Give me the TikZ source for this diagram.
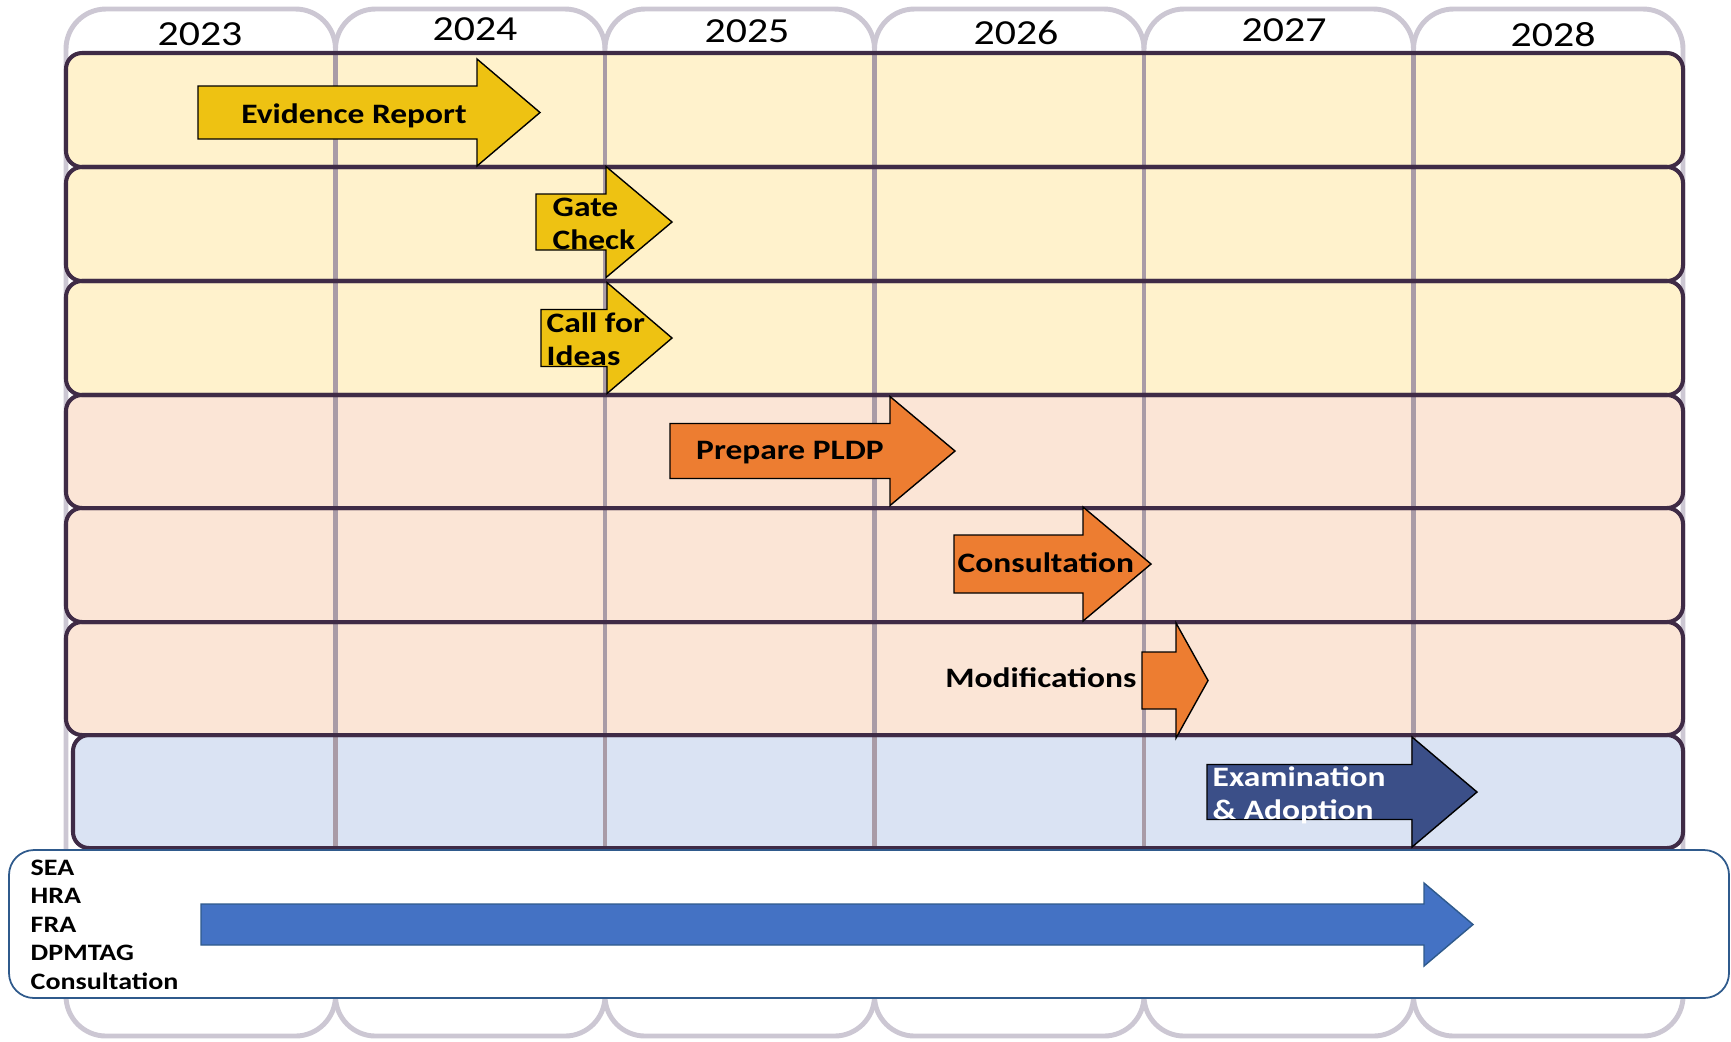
\documentclass[tikz,border=0pt]{standalone}
\usepackage{fontspec}
\setmainfont{Carlito}[FakeStretch=1.19]
\definecolor{laneline}{HTML}{3F2B46}
\definecolor{colline}{HTML}{CCC7D3}
\definecolor{sepline}{HTML}{A99BA6}
\definecolor{goldlane}{HTML}{FFF2CC}
\definecolor{peachlane}{HTML}{FBE5D6}
\definecolor{bluelane}{HTML}{DAE3F3}
\definecolor{goldarrow}{HTML}{EEC212}
\definecolor{orangearrow}{HTML}{ED7D31}
\definecolor{navyarrow}{HTML}{3B4F88}
\definecolor{bluearrow}{HTML}{4472C4}
\definecolor{boxline}{HTML}{2F5A8C}
\tikzset{
  yearcol/.style={draw=colline,line width=1.4pt,fill=white,rounded corners=0.4cm},
  lane/.style={rounded corners=0.16cm},
  laneedge/.style={draw=laneline,line width=1.15pt,rounded corners=0.16cm},
  blockarr/.style={draw=black,line width=0.4pt,line join=miter},
  yearlabel/.style={font=\fontsize{10}{12}\selectfont},
  tasklabel/.style={font=\bfseries\fontsize{8}{9.4}\selectfont,inner sep=0pt,align=left},
}
\newcommand{\blockarrow}[7]{\filldraw[blockarr,#7] (#1,#4-#5) -- (#2,#4-#5) -- (#2,#4-#6) -- (#3,#4) -- (#2,#4+#6) -- (#2,#4+#5) -- (#1,#4+#5) -- cycle;}
\begin{document}
\begin{tikzpicture}[x=0.01cm,y=-0.01cm]
\useasboundingbox (0,0) rectangle (1731,1041);
\fill[white] (0,0) rectangle (1731,1041);
\draw[yearcol] (66,9) rectangle (335.5,1036);
\draw[yearcol] (335.5,9) rectangle (605,1036);
\draw[yearcol] (605,9) rectangle (874.5,1036);
\draw[yearcol] (874.5,9) rectangle (1144,1036);
\draw[yearcol] (1144,9) rectangle (1413.5,1036);
\draw[yearcol] (1413.5,9) rectangle (1683,1036);
\node[yearlabel] (y2023) at (200,34) {2023};
\node[yearlabel] (y2024) at (475,29) {2024};
\node[yearlabel] (y2025) at (747,31) {2025};
\node[yearlabel] (y2026) at (1016,33) {2026};
\node[yearlabel] (y2027) at (1284,30) {2027};
\node[yearlabel] (y2028) at (1553,35) {2028};
\fill[lane,goldlane] (66,53) rectangle (1683,167);
\fill[lane,goldlane] (66,167) rectangle (1683,281);
\fill[lane,goldlane] (66,281) rectangle (1683,395);
\fill[lane,peachlane] (66,395) rectangle (1683,508);
\fill[lane,peachlane] (66,508) rectangle (1683,622);
\fill[lane,peachlane] (66,622) rectangle (1683,735);
\fill[lane,bluelane] (73,735) rectangle (1683,848);
\foreach \x in {335.5,605,874.5,1144,1413.5}
  \draw[sepline,line width=1.2pt] (\x,53) -- (\x,848);
\foreach \ya/\yb in {53/167,167/281,281/395,395/508,508/622,622/735}
  \draw[laneedge] (66,\ya) rectangle (1683,\yb);
\draw[laneedge] (73,735) rectangle (1683,848);
\blockarrow{198}{477}{540}{112.5}{26.5}{53.5}{fill=goldarrow}
\blockarrow{536}{606}{672}{222}{28}{55.5}{fill=goldarrow}
\blockarrow{541}{607}{672}{338}{28.5}{55.5}{fill=goldarrow}
\blockarrow{670}{890}{955}{451}{27.5}{54.5}{fill=orangearrow}
\blockarrow{954}{1083}{1151}{564}{29}{57}{fill=orangearrow}
\blockarrow{1142}{1176}{1208}{680.5}{28.5}{57.5}{fill=orangearrow}
\blockarrow{1207}{1412}{1477}{792}{27.5}{55}{fill=navyarrow}
\node[tasklabel] (evidence) at (354,116) {Evidence Report};
\node[tasklabel,anchor=north west] (gate) at (552,197) {Gate\\Check};
\node[tasklabel,anchor=north west] (ideas) at (546,312) {Call for\\Ideas};
\node[tasklabel] (pldp) at (790,453) {Prepare PLDP};
\node[tasklabel,anchor=west] (consult) at (957,563) {Consultation};
\node[tasklabel,anchor=east] (mods) at (1137,678) {Modifications};
\node[tasklabel,anchor=north west,text=white] (exam) at (1212,766) {Examination\\\& Adoption};
\draw[boxline,line width=0.5pt,fill=white,rounded corners=0.25cm] (9,850) rectangle (1729,998);
\blockarrow{201}{1424}{1473}{924.5}{20.5}{41.5}{fill=bluearrow,draw=boxline}
\node[tasklabel,anchor=north west,font=\bfseries\fontsize{6.7}{8.1}\selectfont] (assess) at (30,859) {SEA\\HRA\\FRA\\DPMTAG\\Consultation};
\end{tikzpicture}
\end{document}
